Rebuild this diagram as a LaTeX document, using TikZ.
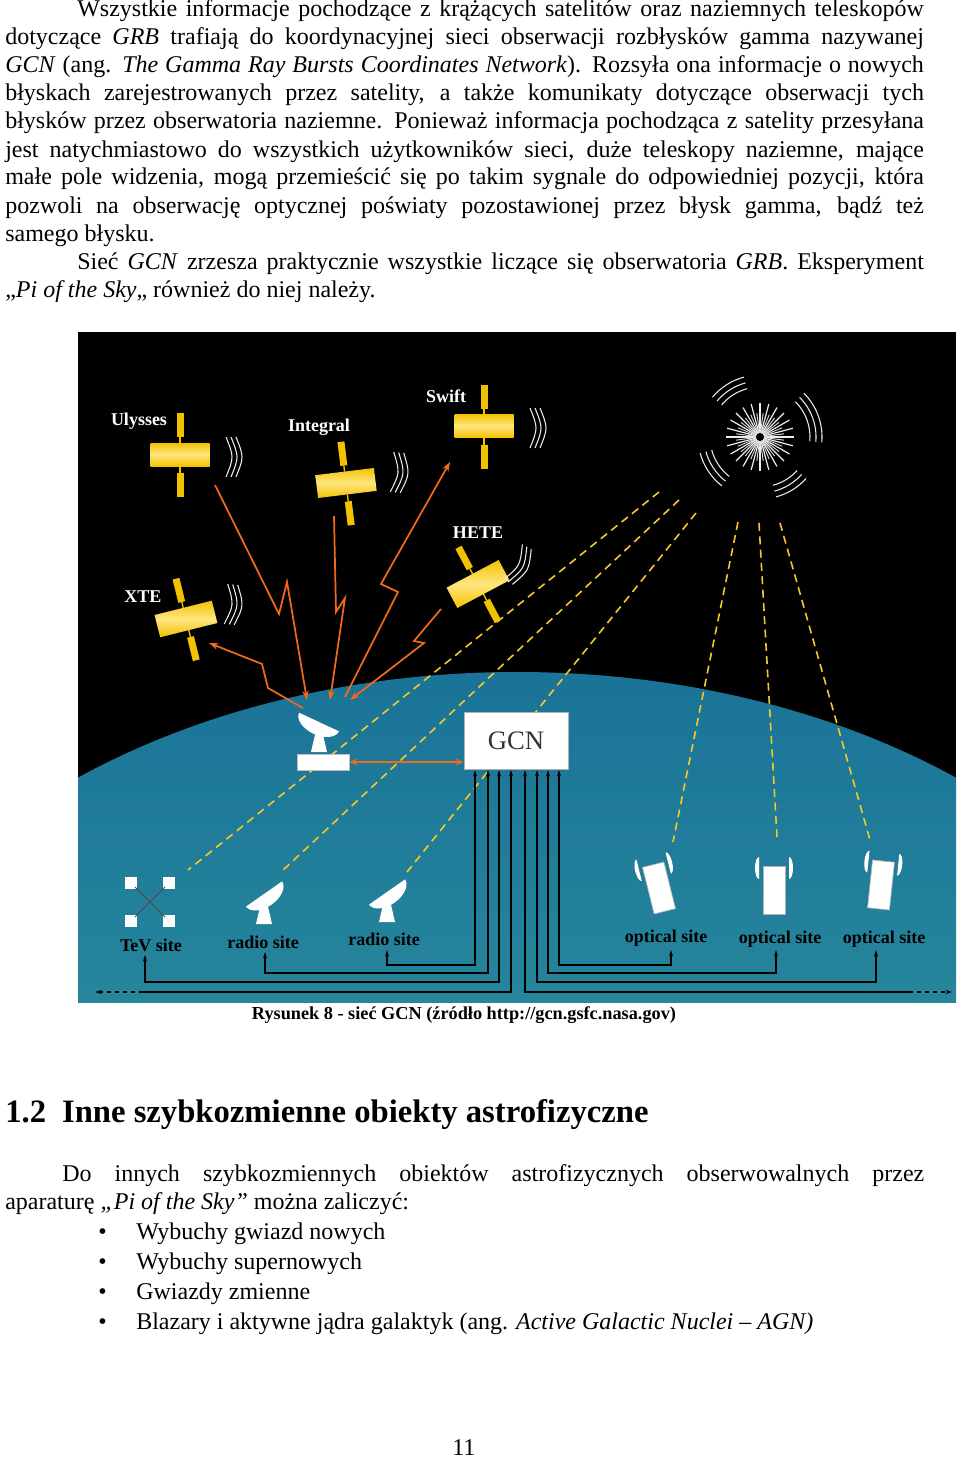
\documentclass[tikz,border=0pt]{standalone}
\usepackage{fontspec}
\setmainfont{Liberation Serif}
\usetikzlibrary{arrows.meta,calc}
\definecolor{satY}{HTML}{F2C200}
\definecolor{satL}{HTML}{FFE680}
\definecolor{tealA}{HTML}{1A7398}
\definecolor{tealB}{HTML}{3CA9A2}
\definecolor{orng}{HTML}{F06A18}
\definecolor{ydsh}{HTML}{F5C828}
\newcommand\jline[1]{\hbox to 689pt{#1}}
\newcommand\drawsat[3]{\begin{scope}[shift={(#1,#2)},rotate=#3]
  \shade[top color=satY,bottom color=satY,middle color=satL] (-29.5,-11.5) rectangle (29.5,11.5);
  \fill[satY] (-3.5,-41.5) rectangle (3.5,-17.5);
  \fill[satY] (-3.5,18.5) rectangle (3.5,42.5);
  \draw[satY,line width=1pt] (0,-17.5)--(0,-11.5) (0,11.5)--(0,18.5);
\end{scope}}
\newcommand\drawwaves[3]{\begin{scope}[shift={(#1,#2)},rotate=#3]
  \foreach \i in {0,5,10}{\draw[white!85!gray,line width=0.8pt] (\i,-20) .. controls (\i+8,0) .. (\i,20);}
\end{scope}}
\newcommand\drawdish[3]{\begin{scope}[shift={(#1,#2)}]
  \fill[white] (-8,30)--(8,30)--(2,4)--(-2,4)--cycle;
  \fill[white,rotate=#3] (-22,0) arc[start angle=180,end angle=0,x radius=22,y radius=13] -- cycle;
\end{scope}}
\newcommand\drawoptic[3]{\begin{scope}[shift={(#1,#2)},rotate=#3]
  \fill[white] (-15,-11) arc[start angle=90,end angle=270,x radius=4,y radius=11] -- cycle;
  \fill[white] (15,-11) arc[start angle=90,end angle=-90,x radius=4,y radius=11] -- cycle;
  \fill[white] (-11,-24) rectangle (11,24);
  \draw[gray!60,line width=0.5pt] (-11,-24) rectangle (11,24);
\end{scope}}
\begin{document}
\begin{tikzpicture}[x=0.75pt,y=-0.75pt,
  body/.style={anchor=base west,inner sep=0pt,font=\fontsize{18}{21}\selectfont},
  slabel/.style={font=\fontsize{13.5}{14}\selectfont\bfseries,text=white,inner sep=0pt},
  glabel/.style={font=\fontsize{13.5}{14}\selectfont\bfseries,text=black,inner sep=0pt},
  ydash/.style={ydsh,dashed,dash pattern=on 6pt off 4pt,line width=1.2pt},
  oline/.style={orng,line width=1.3pt,-{Stealth[length=7pt,width=5pt]}},
  bline/.style={black,line width=0.8pt},
  barr/.style={bline,{Stealth[length=5pt,width=3pt]}-{Stealth[length=5pt,width=3pt]}}]
\useasboundingbox (0,0) rectangle (960,1459);
\fill[white] (0,0) rectangle (960,1459);
% ---- text paragraph 1
\node[body] (p1) at (77,17) {\hbox to 635pt{Wszystkie informacje pochodzące z krążących satelitów oraz naziemnych teleskopów}};
\node[body] (p2) at (5,45) {\jline{dotyczące \textit{GRB} trafiają do koordynacyjnej sieci obserwacji rozbłysków gamma nazywanej}};
\node[body] (p3) at (5,73) {\jline{\textit{GCN} (ang. \textit{The Gamma Ray Bursts Coordinates Network}). Rozsyła ona informacje o nowych}};
\node[body] (p4) at (5,101) {\jline{błyskach zarejestrowanych przez satelity, a także komunikaty dotyczące obserwacji tych}};
\node[body] (p5) at (5,129) {\jline{błysków przez obserwatoria naziemne. Ponieważ informacja pochodząca z satelity przesyłana}};
\node[body] (p6) at (5,157) {\jline{jest natychmiastowo do wszystkich użytkowników sieci, duże teleskopy naziemne, mające}};
\node[body] (p7) at (5,185) {\jline{małe pole widzenia, mogą przemieścić się po takim sygnale do odpowiedniej pozycji, która}};
\node[body] (p8) at (5,213) {\jline{pozwoli na obserwację optycznej poświaty pozostawionej przez błysk gamma, bądź też}};
\node[body] (p9) at (5,241) {samego błysku.};
\node[body] (p10) at (77,269) {\hbox to 635pt{Sieć \textit{GCN} zrzesza praktycznie wszystkie liczące się obserwatoria \textit{GRB}. Eksperyment}};
\node[body] (p11) at (5,297) {„\textit{Pi of the Sky}„ również do niej należy.};
% ---- diagram
\fill[black] (78,332) rectangle (956,1002);
\begin{scope}
\clip (78,332) rectangle (956,1002);
\shade[top color=tealA,bottom color=tealB] (517,1150) ellipse[x radius=700,y radius=478];
\end{scope}
% yellow dashed
\draw[ydash] (659,492) -- (188,870);
\draw[ydash] (679,500) -- (280,873);
\draw[ydash] (696,513) -- (407,872);
\draw[ydash] (738,522) -- (673,842);
\draw[ydash] (759,523) -- (777,837);
\draw[ydash] (780,523) -- (870,840);
% GRB star
\foreach \a in {0,15,...,345}{\draw[white!85!gray,line width=0.9pt] (760,437) -- ++(\a:34);}
\foreach \a in {7.5,22.5,...,352.5}{\draw[white!70!gray,line width=0.7pt] (760,437) -- ++(\a:24);}
\fill[black] (760,437) circle (4);
\foreach \r in {50,56,62}{
  \draw[white!85!gray,line width=0.8pt] (760,437) ++(-105:\r) arc[start angle=-105,end angle=-140,radius=\r];
  \draw[white!85!gray,line width=0.8pt] (760,437) ++(5:\r) arc[start angle=5,end angle=-45,radius=\r];
  \draw[white!85!gray,line width=0.8pt] (760,437) ++(-195:\r) arc[start angle=-195,end angle=-232,radius=\r];
  \draw[white!85!gray,line width=0.8pt] (760,437) ++(-285:\r) arc[start angle=-285,end angle=-318,radius=\r];
}
% satellites
\drawsat{180}{454.5}{0}
\drawsat{346}{483}{7}
\drawsat{484}{426}{0}
\drawsat{478}{584}{28}
\drawsat{186}{619}{14}
\drawwaves{226}{457}{0}
\drawwaves{392}{472}{-5}
\drawwaves{530}{428}{0}
\drawwaves{513}{562}{-28}
\drawwaves{226}{604}{-5}
\node[slabel] (lu) at (139,421) {Ulysses};
\node[slabel] (li) at (319,427) {Integral};
\node[slabel] (ls) at (446,396) {Swift};
\node[slabel] (lh) at (478,533) {HETE};
\node[slabel] (lx) at (143,597) {XTE};
% orange paths
\draw[oline] (215,485) -- (279,614) -- (287,582) -- (307,700);
\draw[oline] (334,516) -- (336,612) -- (345,598) -- (330,700);
\draw[oline] (345,697) -- (398,592) -- (381,584) -- (450,462);
\draw[oline] (441,609) -- (414,641) -- (424,643) -- (350,700);
\draw[oline] (303,708) -- (268,688) -- (262,664) -- (209,643);
% dish and boxes
\drawdish{319}{722}{-25}
\node[fill=white,draw=gray!50,inner sep=0pt,minimum width=39pt,minimum height=12pt] (dbox) at (323,762) {};
\node[fill=white,draw=gray!60,minimum width=78pt,minimum height=43pt,inner sep=0pt,font=\fontsize{20}{22}\selectfont,text=black!80] (gcn) at (516,741) {GCN};
\draw[orng,line width=1.2pt,{Stealth[length=6pt,width=5pt]}-{Stealth[length=6pt,width=5pt]}] (dbox.east) -- (dbox.east -| gcn.west);
% ground sites
\foreach \x/\y in {131/883,169/883,131/921,169/921}{\fill[white] (\x-6,\y-6) rectangle (\x+6,\y+6);}
\draw[black!70,line width=0.7pt] (135,887) -- (165,917) (165,887) -- (135,917);
\drawdish{264}{894}{35}
\drawdish{387}{892}{35}
\drawoptic{659}{888}{14}
\drawoptic{774}{890}{0}
\drawoptic{881}{885}{-6}
\node[glabel] (tev) at (151,945) {TeV site};
\node[glabel] (r1) at (263,942) {radio site};
\node[glabel] (r2) at (384,939) {radio site};
\node[glabel] (o1) at (666,938) {optical site};
\node[glabel] (o2) at (780,939) {optical site};
\node[glabel] (o3) at (884,939) {optical site};
% black connectors
\draw[barr] (475,770) -- (475,965) -- (387,965) -- (387,950);
\draw[barr] (488,770) -- (488,973) -- (265,973) -- (265,952);
\draw[barr] (499,770) -- (499,982) -- (145,982) -- (145,955);
\draw[barr] (537,770) -- (537,982) -- (876,982) -- (876,950);
\draw[barr] (548,770) -- (548,973) -- (776,973) -- (776,950);
\draw[barr] (559,770) -- (559,965) -- (671,965) -- (671,950);
\draw[bline,{Stealth[length=5pt,width=3pt]}-] (511,770) -- (511,992) -- (143,992);
\draw[bline,dashed,-{Stealth[length=5pt,width=3pt]}] (143,992) -- (95,992);
\draw[bline,{Stealth[length=5pt,width=3pt]}-] (525,770) -- (525,992) -- (909,992);
\draw[bline,dashed,-{Stealth[length=5pt,width=3pt]}] (909,992) -- (952,992);
% caption
\node[anchor=base,inner sep=0pt,font=\fontsize{13.7}{15}\selectfont\bfseries] (cap) at (464,1019) {Rysunek 8 - sieć GCN (źródło http://gcn.gsfc.nasa.gov)};
% heading
\node[anchor=base west,inner sep=0pt,font=\fontsize{24.5}{28}\selectfont\bfseries] (h) at (5,1122) {1.2\hspace{12pt}Inne szybkozmienne obiekty astrofizyczne};
\node[body] (q1) at (62,1181) {\hbox to 646.5pt{Do innych szybkozmiennych obiektów astrofizycznych obserwowalnych przez}};
\node[body] (q2) at (5,1209) {aparaturę \textit{„Pi of the Sky”} można zaliczyć:};
\foreach \y/\t [count=\k] in {1239/Wybuchy gwiazd nowych,1269/Wybuchy supernowych,1299/Gwiazdy zmienne}{
  \node[body] (b\k) at (98,\y) {•};
  \node[body] (t\k) at (136,\y) {\t};}
\node[body] (b4) at (98,1329) {•};
\node[body] (t4) at (136,1329) {Blazary i aktywne jądra galaktyk (ang. \textit{Active Galactic Nuclei – AGN)}};
\node[body] (pg) at (452,1455) {11};
\end{tikzpicture}
\end{document}
